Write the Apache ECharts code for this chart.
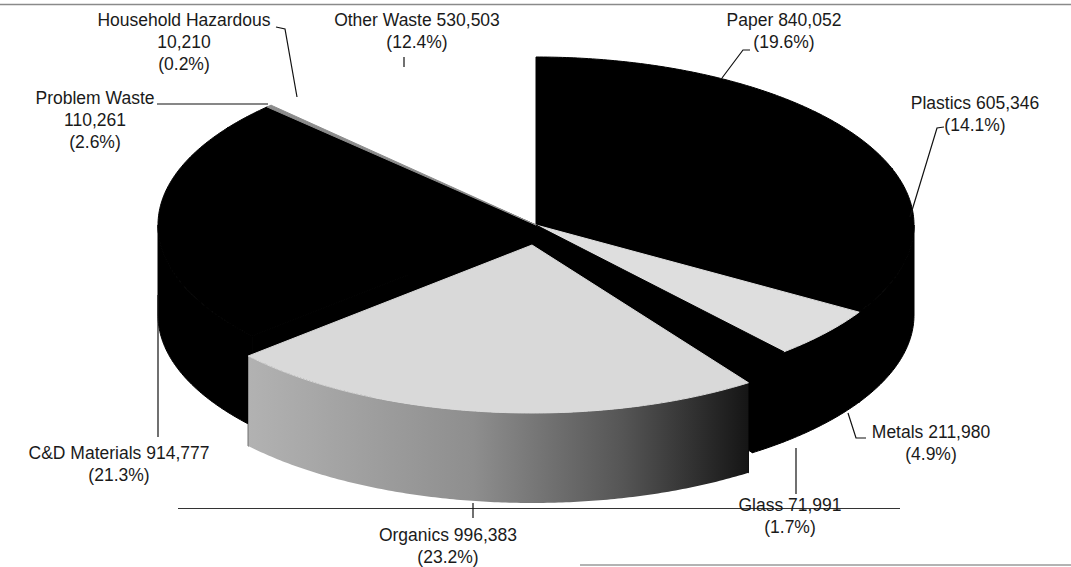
<!DOCTYPE html>
<html><head><meta charset="utf-8">
<script src="https://cdn.jsdelivr.net/npm/echarts@6/dist/echarts.min.js"></script>
<style>html,body{margin:0;padding:0;background:#fff}#c{width:1071px;height:567px}</style>
</head><body><div id="c"></div>
<script>
// ---- data ----
const categories = ['Paper','Plastics','Metals','Glass','Organics','C&D Materials','Problem Waste','Household Hazardous','Other Waste'];
const tonnes = [840052, 605346, 211980, 71991, 996383, 914777, 110261, 10210, 530503];

// ---- styles (kept apart from data) ----
const topColors  = ['#000000','#000000','#dedede','#000000','#d9d9d9','#000000','#000000','#8c8c8c','#ffffff'];
const wallColors = ['#000000','#000000','#000000','#000000','GRAD','#000000','#000000','#8c8c8c','#ffffff'];
const explodeX = [0,0,0,0,-4,0,0,0,0];
const explodeY = [0,0,0,0,20,0,0,0,0];

// ---- layout ----
const CX = 536, CY = 225, RX = 378, RY = 168, DEPTH = 90;
const FONT = '17.5px "Liberation Sans", Arial, sans-serif';
const labelLayout = [
  {x:784, y:20,  mode:2, leader:[[750,50],[743,50],[722,78]]},
  {x:975, y:103, mode:2, leader:[[944,127],[937,128],[910,217]]},
  {x:931, y:432, mode:2, leader:[[866,438],[856,438],[848,413]]},
  {x:790, y:505, mode:2, leader:[[796,494],[796,448]]},
  {x:448, y:535, mode:2, leader:[[473,518],[473,503]]},
  {x:119, y:453, mode:2, leader:[[158,437],[158,295]]},
  {x:95,  y:98,  mode:3, leader:[[157,104],[268,104]]},
  {x:184, y:20,  mode:3, leader:[[276,27],[285,29],[297,97]]},
  {x:417, y:20,  mode:2, leader:[[404,57],[404,67]]}
];

const total = tonnes.reduce((a,b)=>a+b,0);
const startA = [], endA = [];
(function(){ let acc = 0; tonnes.forEach(v=>{ startA.push(acc/total*2*Math.PI); acc += v; endA.push(acc/total*2*Math.PI); }); })();

function rim(t, dx, dy, dz){ return [CX + RX*Math.sin(t) + dx, CY - RY*Math.cos(t) + dy + (dz||0)]; }
function arc(a0, a1, dx, dy, dz){
  const n = Math.max(2, Math.ceil(Math.abs(a1-a0)/0.01));
  const pts = [];
  for (let k=0;k<=n;k++){ pts.push(rim(a0+(a1-a0)*k/n, dx, dy, dz)); }
  return pts;
}
const organicsGrad = {type:'linear', x:0, y:0, x2:1, y2:0, colorStops:[
  {offset:0, color:'#b2b2b2'},{offset:0.45, color:'#8e8e8e'},{offset:0.75, color:'#555555'},{offset:1, color:'#151515'}]};

function solid(c){ return {fill:c, stroke:c, lineWidth:1, lineJoin:'round'}; }

function renderItem(params, api){
  const i = params.dataIndex;
  const val = api.value(0);
  if (!(val > 0)) return null;
  const a0 = startA[i], a1 = endA[i];
  const dx = explodeX[i], dy = explodeY[i];
  const mid = (a0+a1)/2;
  const front = Math.round((1 - Math.cos(mid))*10);
  const isGrad = wallColors[i] === 'GRAD';
  const children = [];
  const apex = [CX+dx, CY+dy];
  // radial walls
  [a0, a1].forEach(a=>{
    const r = rim(a, dx, dy, 0);
    children.push({type:'polygon', z2: 5 + front, shape:{points:[apex, r, [r[0], r[1]+DEPTH], [apex[0], apex[1]+DEPTH]]},
      style: solid(isGrad ? '#000000' : wallColors[i]), silent:true});
  });
  // outer wall (front half only)
  const s = Math.max(a0, Math.PI/2), e = Math.min(a1, 3*Math.PI/2);
  if (e > s){
    const topArc = arc(s, e, dx, dy, 0);
    const botArc = arc(e, s, dx, dy, DEPTH);
    children.push({type:'polygon', z2: 40 + front, shape:{points: topArc.concat(botArc)},
      style: isGrad ? {fill: organicsGrad} : solid(wallColors[i]), silent:true});
  }
  // top
  children.push({type:'polygon', z2: 100 + (topColors[i] === '#ffffff' ? 0 : 1), shape:{points:[apex].concat(arc(a0, a1, dx, dy, 0))},
    style: solid(topColors[i]), silent:true});
  return {type:'group', children};
}

function fmt(n){ return n.toLocaleString('en-US'); }
function pct(n){ return '(' + (n/total*100).toFixed(1) + '%)'; }

const graphics = [];
// frame lines from the scanned page
graphics.push({type:'line', shape:{x1:0,y1:4.5,x2:1071,y2:4.5}, style:{stroke:'#8a8a8a', lineWidth:1.5}, z:10});
graphics.push({type:'line', shape:{x1:580,y1:565,x2:1071,y2:565}, style:{stroke:'#9a9a9a', lineWidth:1.5}, z:10});
graphics.push({type:'line', shape:{x1:178,y1:508.5,x2:900,y2:508.5}, style:{stroke:'#333', lineWidth:1}, z:10});
categories.forEach((name, i)=>{
  const L = labelLayout[i];
  const txt = L.mode === 3 ? [name, fmt(tonnes[i]), pct(tonnes[i])].join('\n')
                           : [name + ' ' + fmt(tonnes[i]), pct(tonnes[i])].join('\n');
  graphics.push({type:'text', z:20, style:{text: txt, x: L.x, y: L.y - 11, align:'center', verticalAlign:'top',
    font: FONT, lineHeight: 22, fill:'#1a1a1a'}});
  graphics.push({type:'polyline', z:20, shape:{points: L.leader}, style:{stroke:'#111', lineWidth:1.2, fill:null}});
});

const chart = echarts.init(document.getElementById('c'), null, {renderer:'svg'});
chart.setOption({
  animation:false,
  backgroundColor:'#ffffff',
  series:[{
    type:'custom',
    coordinateSystem:'none',
    renderItem: renderItem,
    data: tonnes.map((v,i)=>({name: categories[i], value:[v]}))
  }],
  graphic: graphics
});
</script></body></html>
